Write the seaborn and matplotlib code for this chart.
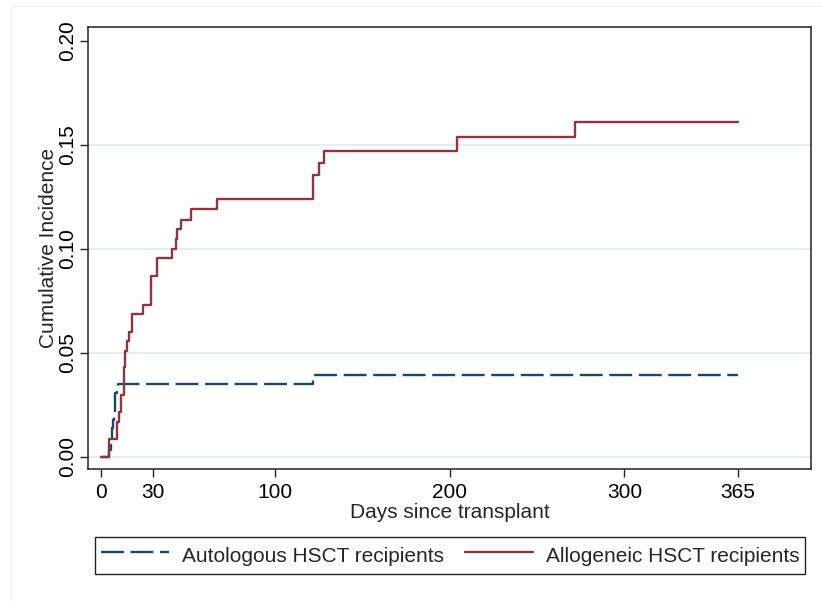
import seaborn as sns
import matplotlib.pyplot as plt
import matplotlib.patches as mpatches
import pandas as pd

# Cumulative incidence step curves
allo_days = [0, 5.0, 9.3, 10.8, 11.7, 13.3, 14.2, 15.2, 16.3, 18.0, 24.2, 28.7, 29.1,
             32.2, 41.1, 43.1, 44.0, 45.9, 52.0, 66.9, 121.8, 124.9, 128.1, 203.9,
             271.7, 365]
allo_ci = [0, 0.0086, 0.0170, 0.0217, 0.0297, 0.0430, 0.0510, 0.0556, 0.0600, 0.0689,
           0.0732, 0.0777, 0.0868, 0.0958, 0.1002, 0.1049, 0.1095, 0.1141, 0.1190,
           0.1239, 0.1356, 0.1413, 0.1469, 0.1540, 0.1612, 0.1612]

auto_days = [0, 4.5, 5.0, 5.8, 6.4, 7.3, 7.9, 8.3, 9.3, 10.2, 121.8, 365]
auto_ci = [0, 0.0, 0.0034, 0.0062, 0.0139, 0.0177, 0.0217, 0.0307, 0.0330, 0.0349,
           0.0392, 0.0392]

x_ticks = [0, 30, 100, 200, 300, 365]
y_ticks = [0.00, 0.05, 0.10, 0.15, 0.20]
labels = ['Autologous HSCT recipients', 'Allogeneic HSCT recipients']

df_auto = pd.DataFrame({'days': auto_days, 'ci': auto_ci})
df_allo = pd.DataFrame({'days': allo_days, 'ci': allo_ci})

sns.set_theme(style='white')
plt.rcParams['font.family'] = ['Liberation Sans', 'DejaVu Sans']

fig = plt.figure(figsize=(8.22, 6.01), dpi=100)
ax = fig.add_axes([88 / 822, 1 - 469 / 601, (811 - 88) / 822, (469 - 27) / 601])

# faint outer frame like the Stata graph region
fig.patches.append(mpatches.Rectangle((11 / 822, -0.01), 1.0, 1 - 6 / 601 + 0.01,
                                      transform=fig.transFigure, fill=False,
                                      edgecolor='#f1f3f3', lw=1.0))

for y in [0.00, 0.05, 0.10, 0.15]:
    ax.axhline(y, color='#e4ecef', lw=1.3, zorder=0)

sns.lineplot(data=df_auto, x='days', y='ci', ax=ax, drawstyle='steps-post',
             estimator=None, color='#1a476f', lw=1.7, linestyle=(0, (9.7, 2.8)),
             label=labels[0])
sns.lineplot(data=df_allo, x='days', y='ci', ax=ax, drawstyle='steps-post',
             estimator=None, color='#90353b', lw=1.7, label=labels[1])

ax.set_xlim(-7.2, 406.8)
ax.set_ylim(-0.0058, 0.2067)
ax.set_xticks(x_ticks)
ax.set_yticks(y_ticks)
ax.set_xticklabels([str(t) for t in x_ticks])
ax.set_yticklabels(['%.2f' % t for t in y_ticks], rotation=90, va='center')

ax.tick_params(axis='both', which='major', length=6, width=1.0, color='#222222',
               labelsize=15, labelcolor='black', direction='out')
ax.tick_params(axis='x', pad=4, bottom=True)
ax.tick_params(axis='y', pad=2, left=True)

for s in ax.spines.values():
    s.set_color('#222222')
    s.set_linewidth(1.1)

ax.set_xlabel('Days since transplant', fontsize=15, labelpad=1)
ax.set_ylabel('Cumulative Incidence', fontsize=15, labelpad=0)

handles, lbls = ax.get_legend_handles_labels()
ax.legend_.remove()
leg = fig.legend(handles, lbls, loc='upper center', bbox_to_anchor=(450 / 822, 1 - 537 / 601),
                 ncol=2, fontsize=15, frameon=True, fancybox=False, framealpha=1,
                 edgecolor='#222222', handlelength=3.3, handletextpad=0.6,
                 columnspacing=1.0, borderpad=0.25, handleheight=1.55,
                 borderaxespad=0)
leg.get_frame().set_linewidth(1.0)

fig.savefig('out.png', dpi=100)
